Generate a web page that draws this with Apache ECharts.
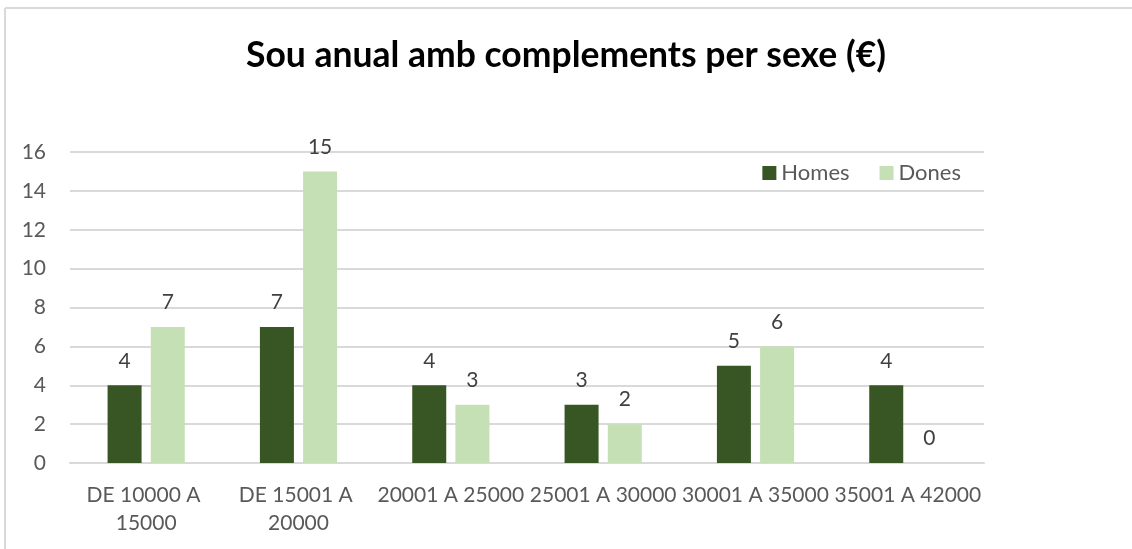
<!DOCTYPE html>
<html>
<head>
<meta charset="utf-8">
<style>
  html, body { margin: 0; padding: 0; background: #ffffff; }
  #chart { width: 1132px; height: 549px; }
</style>
<script src="https://cdn.jsdelivr.net/npm/echarts@6/dist/echarts.min.js"></script>
</head>
<body>
<div id="chart"></div>
<script>
// Salary bands (annual pay with supplements) and head counts by sex
const categories = ['DE 10000 A 15000', 'DE 15001 A 20000', '20001 A 25000', '25001 A 30000', '30001 A 35000', '35001 A 42000'];
const homes = [4, 7, 4, 3, 5, 4];
const dones = [7, 15, 3, 2, 6, 0];
const seriesNames = ['Homes', 'Dones'];
const titleText = 'Sou anual amb complements per sexe (€)';

const FONT = 'Lato, "Open Sans", sans-serif';
const chart = echarts.init(document.getElementById('chart'), null, { renderer: 'canvas' });

const valueLabel = {
  show: true,
  position: 'top',
  distance: 14,
  color: '#404040',
  fontFamily: FONT,
  fontSize: 21
};

chart.setOption({
  animation: false,
  backgroundColor: '#ffffff',
  title: {
    text: titleText,
    left: 'center',
    top: 33,
    textStyle: { fontFamily: FONT, fontWeight: 'bold', fontSize: 35.5, color: '#000000' }
  },
  legend: {
    data: seriesNames,
    right: 166,
    top: 157,
    itemWidth: 14,
    itemHeight: 14,
    itemGap: 30,
    icon: 'rect',
    textStyle: { fontFamily: FONT, fontSize: 22, color: '#595959', padding: [0, 0, 0, 0] }
  },
  grid: { left: 70, right: 148, top: 152, bottom: 86, containLabel: false },
  xAxis: {
    type: 'category',
    data: categories,
    axisLine: { show: true, lineStyle: { color: '#d9d9d9', width: 2 } },
    axisTick: { show: false },
    axisLabel: {
      interval: 0,
      margin: 18,
      width: 148,
      overflow: 'break',
      lineHeight: 28,
      color: '#595959',
      fontFamily: FONT,
      fontSize: 21
    }
  },
  yAxis: {
    type: 'value',
    min: 0,
    max: 16,
    interval: 2,
    axisLine: { show: false },
    axisTick: { show: false },
    splitLine: { lineStyle: { color: '#d9d9d9', width: 2 } },
    axisLabel: { margin: 24, color: '#595959', fontFamily: FONT, fontSize: 21 }
  },
  series: [
    {
      name: seriesNames[0],
      type: 'bar',
      data: homes,
      barWidth: 34,
      barGap: '27%',
      itemStyle: { color: '#375623' },
      label: valueLabel
    },
    {
      name: seriesNames[1],
      type: 'bar',
      data: dones,
      barWidth: 34,
      itemStyle: { color: '#C5E0B4' },
      label: valueLabel
    }
  ],
  graphic: [
    // chart frame: top and left edges
    { type: 'line', shape: { x1: 5, y1: 8, x2: 1132, y2: 8 }, style: { stroke: '#d9d9d9', lineWidth: 2 }, silent: true },
    { type: 'line', shape: { x1: 5, y1: 8, x2: 5, y2: 549 }, style: { stroke: '#d9d9d9', lineWidth: 2 }, silent: true }
  ]
});
</script>
</body>
</html>
